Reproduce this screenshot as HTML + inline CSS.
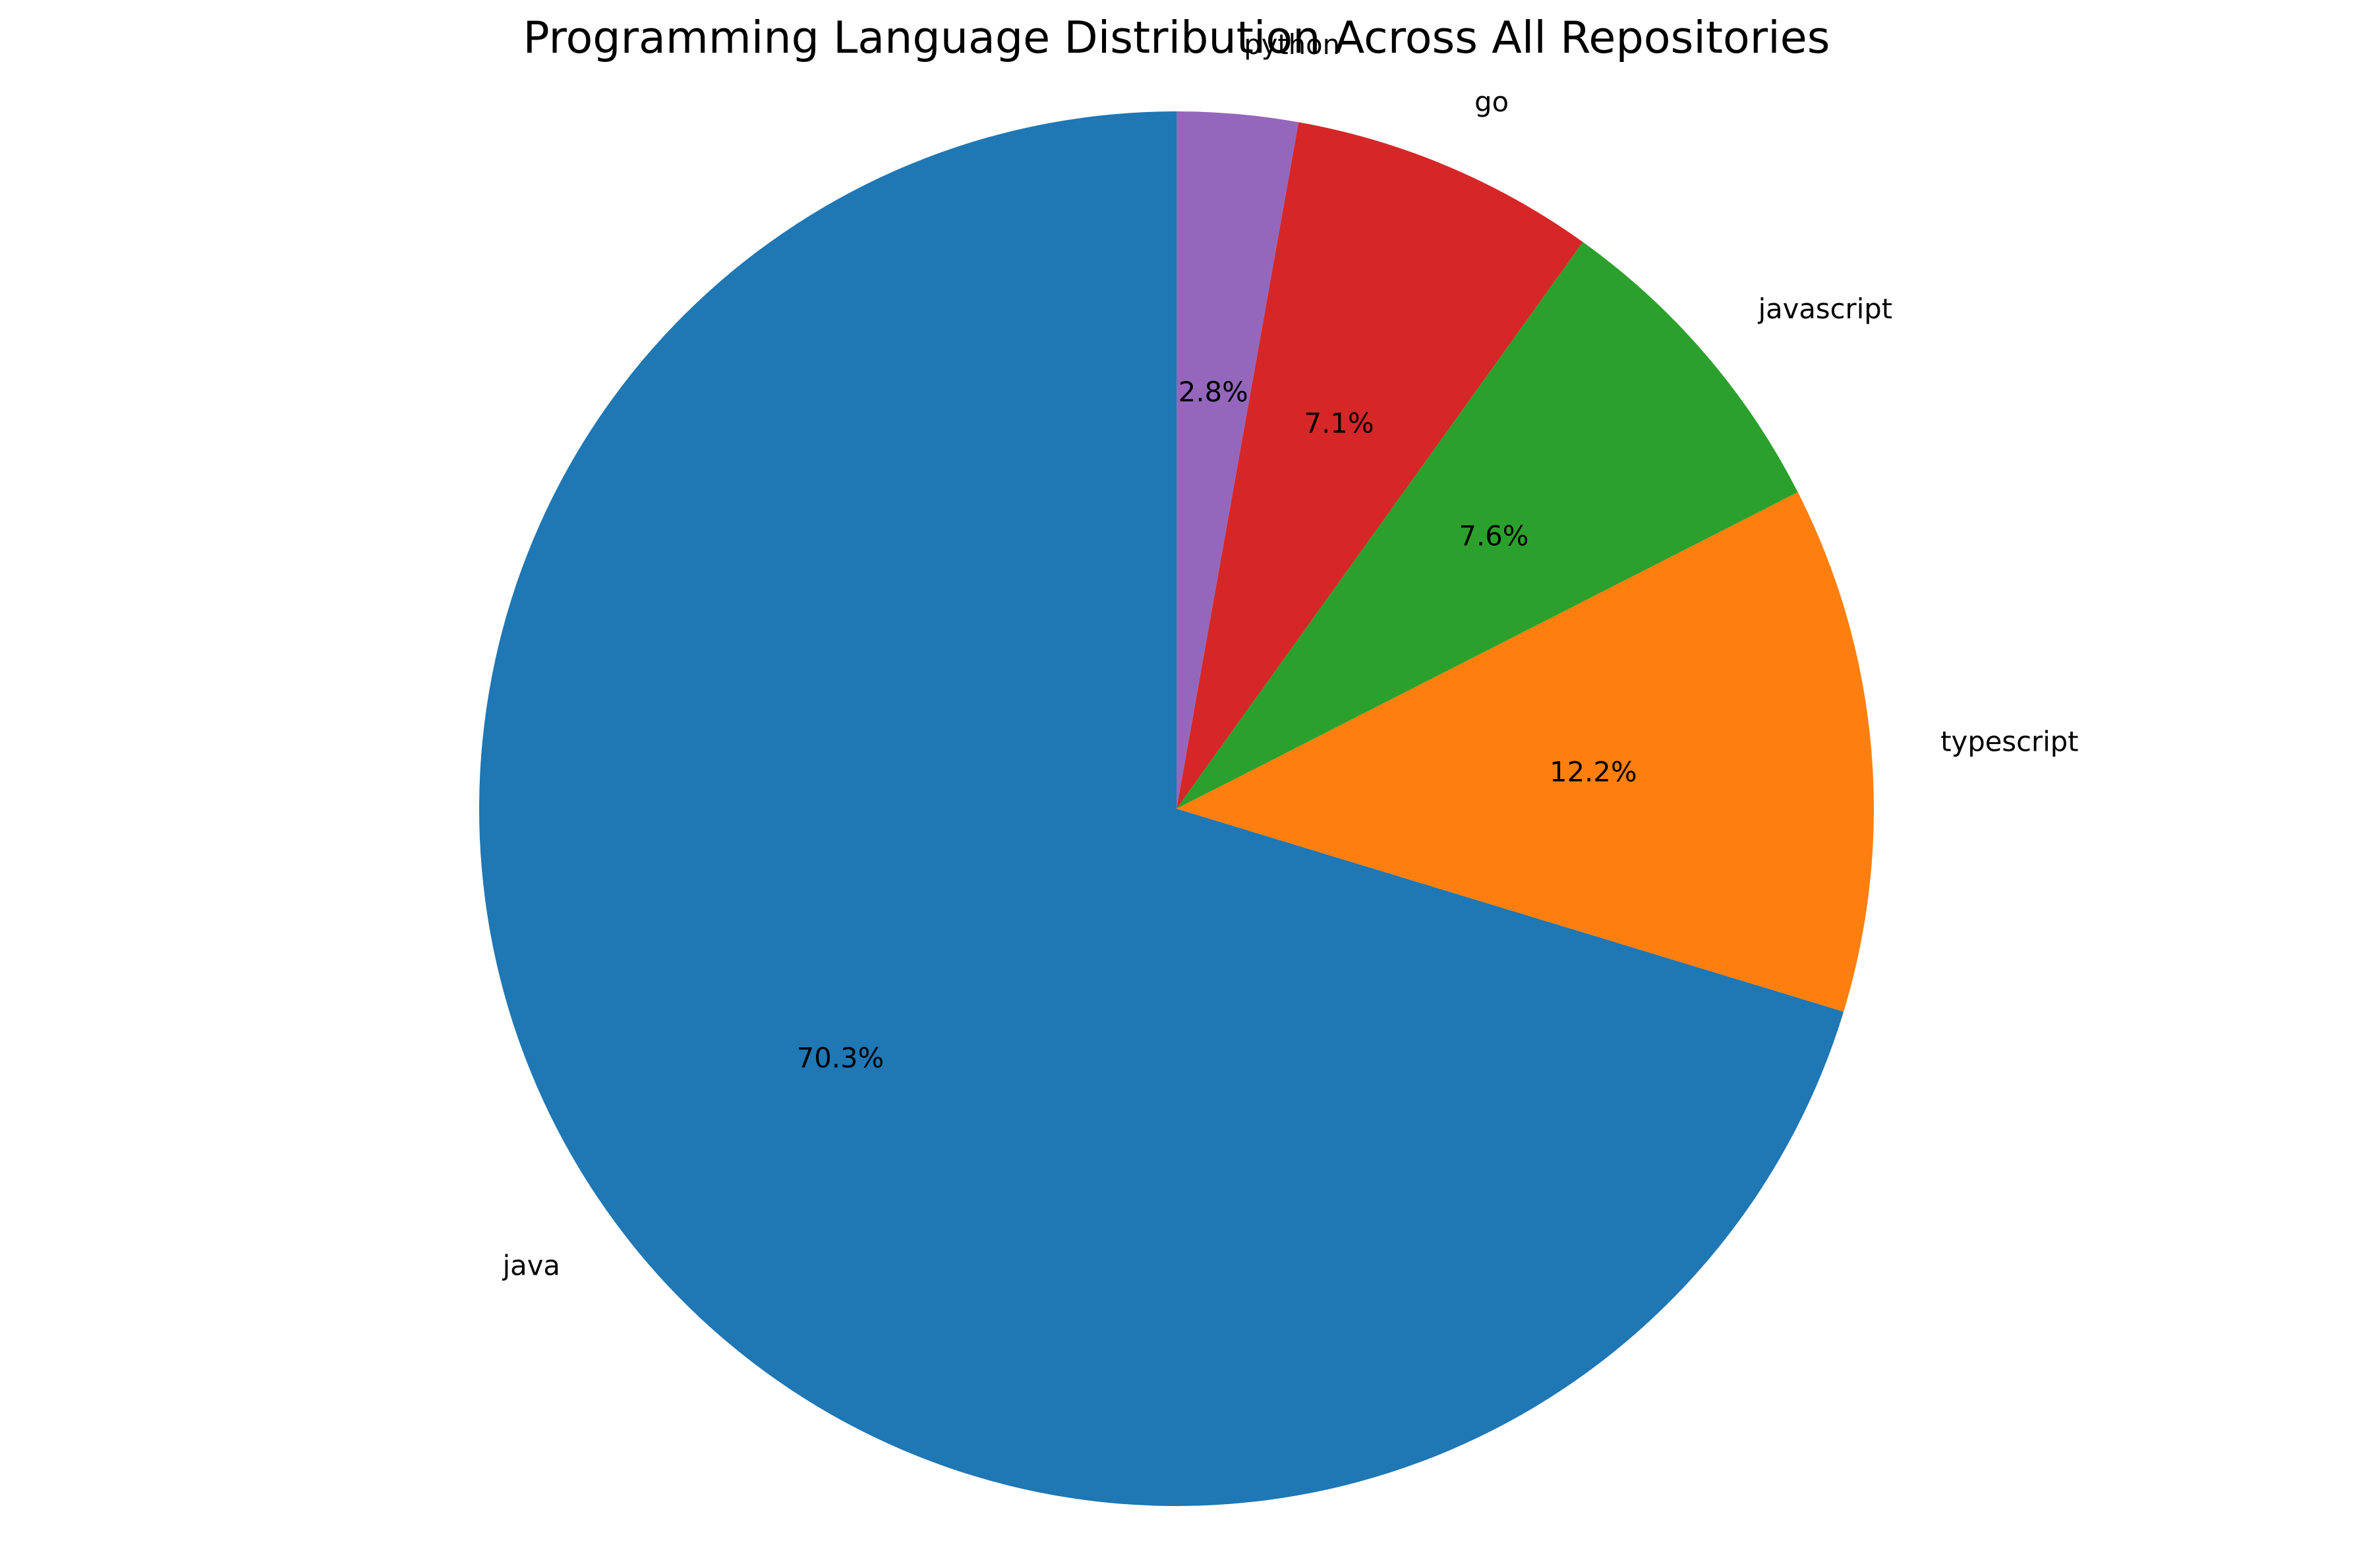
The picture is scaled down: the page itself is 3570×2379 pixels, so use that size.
<!DOCTYPE html>
<html><head><meta charset="utf-8"><style>
html,body{margin:0;padding:0;background:#fff;}
svg text{font-family:"DejaVu Sans","Liberation Sans",sans-serif;}
</style></head><body>
<svg id="chart" width="3570" height="2374" viewBox="0 0 3570 2374" xmlns="http://www.w3.org/2000/svg">
<rect width="3570" height="2374" fill="#fff"/>
<g id="slices"></g>
<g id="labels"></g>
<text x="1785" y="80" font-size="66.7" text-anchor="middle" fill="#000">Programming Language Distribution Across All Repositories</text>
</svg>
<script>
const categories = ["java", "typescript", "javascript", "go", "python"];
const shares = [70.3, 12.2, 7.6, 7.1, 2.8];
const colors = ["#1f77b4", "#ff7f0e", "#2ca02c", "#d62728", "#9467bd"];

const cx = 1785, cy = 1227, R = 1058;
const NS = "http://www.w3.org/2000/svg";
const total = shares.reduce((a, b) => a + b, 0);
function pt(deg, r) { const a = deg * Math.PI / 180; return [cx + r * Math.cos(a), cy - r * Math.sin(a)]; }
const gS = document.getElementById("slices"), gL = document.getElementById("labels");
let start = 90;
shares.forEach((v, i) => {
  const sweep = v / total * 360, end = start + sweep;
  const [x1, y1] = pt(start, R), [x2, y2] = pt(end, R);
  const p = document.createElementNS(NS, "path");
  p.setAttribute("d", `M${cx},${cy} L${x1},${y1} A${R},${R} 0 ${sweep > 180 ? 1 : 0} 0 ${x2},${y2} Z`);
  p.setAttribute("fill", colors[i]);
  
  
  gS.appendChild(p);
  const mid = start + sweep / 2;
  const [lx, ly] = pt(mid, R * 1.1);
  const t = document.createElementNS(NS, "text");
  t.setAttribute("x", lx); t.setAttribute("y", ly);
  t.setAttribute("font-size", "41.7");
  t.setAttribute("dominant-baseline", "central");
  t.setAttribute("text-anchor", Math.cos(mid * Math.PI / 180) >= 0 ? "start" : "end");
  t.textContent = categories[i];
  
  
  gL.appendChild(t);
  const [px, py] = pt(mid, R * 0.6);
  const q = document.createElementNS(NS, "text");
  q.setAttribute("x", px); q.setAttribute("y", py);
  q.setAttribute("font-size", "41.7");
  q.setAttribute("dominant-baseline", "central");
  q.setAttribute("text-anchor", "middle");
  q.textContent = v.toFixed(1) + "%";
  
  
  gL.appendChild(q);
  start = end;
});
</script>
</body></html>
